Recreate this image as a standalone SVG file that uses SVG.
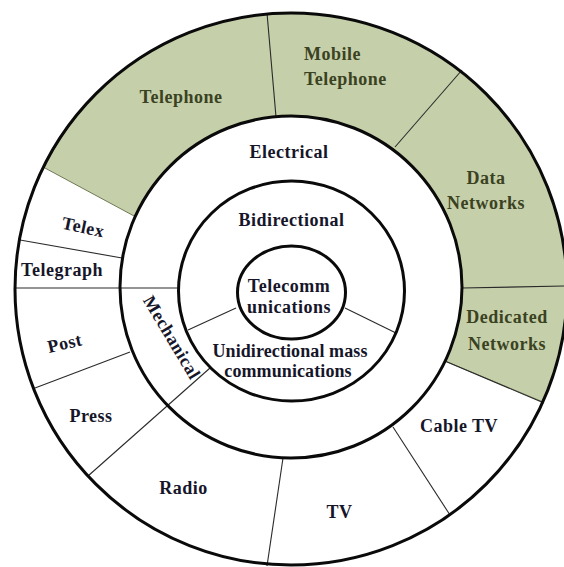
<svg xmlns="http://www.w3.org/2000/svg" width="564" height="567" viewBox="0 0 564 567">
<style>
text{font-family:"Liberation Serif","Times New Roman",serif;font-weight:bold;font-size:18px;letter-spacing:0.5px;fill:#16162a;text-anchor:middle}
text.g{fill:#3b4222}
text.t{letter-spacing:0.1px}
.ring{fill:none;stroke:#0a0a0a;stroke-width:3}
.div{stroke:#2a2a2a;stroke-width:1.1;fill:none}
</style>
<rect width="564" height="567" fill="#ffffff"/>
<g id="electrical-sector-fill">
<path d="M44 167.5 A276 276 0 0 1 291 13 A276 276 0 0 1 543 402 L445 361 A171 171 0 0 0 291 116 A171 171 0 0 0 135 216.5 Z" fill="#c5d0aa" stroke="#6f7a55" stroke-width="1"/>
</g>
<g id="connectors">
<line class="div" x1="267" y1="13" x2="276" y2="117"/>
<line class="div" x1="462" y1="70" x2="395" y2="147"/>
<line class="div" x1="462" y1="288" x2="566" y2="286"/>
<line class="div" x1="446" y1="361.5" x2="544" y2="403"/>
<line class="div" x1="393" y1="427" x2="450" y2="515"/>
<line class="div" x1="283" y1="458" x2="267" y2="566"/>
<line class="div" x1="210" y1="368" x2="88" y2="476"/>
<line class="div" x1="130" y1="352" x2="35" y2="388"/>
<line class="div" x1="15" y1="288" x2="179" y2="288"/>
<line class="div" x1="20" y1="240" x2="122" y2="258"/>
<line class="div" x1="236" y1="308" x2="188" y2="330"/>
<line class="div" x1="345" y1="308" x2="396" y2="333"/>
</g>
<g id="rings">
<circle class="ring" cx="291" cy="289" r="276" stroke-width="3.5"/>
<circle class="ring" cx="291" cy="287" r="171"/>
<ellipse class="ring" cx="291.5" cy="291" rx="113" ry="110"/>
<ellipse class="ring" cx="291.5" cy="292.5" rx="54" ry="46.5"/>
</g>
<g id="telecommunications"><text x="289" y="291.5">Telecomm</text><text x="289" y="313">unications</text></g>
<g id="bidirectional"><text x="291.5" y="226">Bidirectional</text></g>
<g id="unidirectional"><text class="t" x="290" y="357">Unidirectional mass</text><text class="t" x="288" y="376.5">communications</text></g>
<g id="electrical"><text x="289" y="158">Electrical</text></g>
<g id="mechanical"><text transform="translate(166.7 340.6) rotate(59)" x="0" y="0">Mechanical</text></g>
<g id="telephone"><text class="g" x="181" y="103">Telephone</text></g>
<g id="mobile-telephone"><text class="g" x="304" y="60" style="text-anchor:start">Mobile</text><text class="g" x="304" y="85" style="text-anchor:start">Telephone</text></g>
<g id="data-networks"><text class="g" x="486" y="183.5">Data</text><text class="g" x="486" y="208.5">Networks</text></g>
<g id="dedicated-networks"><text class="g" x="507" y="323">Dedicated</text><text class="g" x="507" y="350">Networks</text></g>
<g id="cable-tv"><text x="459" y="431.5">Cable TV</text></g>
<g id="tv"><text x="339.5" y="518">TV</text></g>
<g id="radio"><text x="183.5" y="494">Radio</text></g>
<g id="press"><text x="91" y="421.5">Press</text></g>
<g id="post"><text transform="translate(66 349) rotate(-13)" x="0" y="0">Post</text></g>
<g id="telegraph"><text x="62" y="275.5">Telegraph</text></g>
<g id="telex"><text transform="translate(82 233) rotate(12)" x="0" y="0">Telex</text></g>
</svg>
